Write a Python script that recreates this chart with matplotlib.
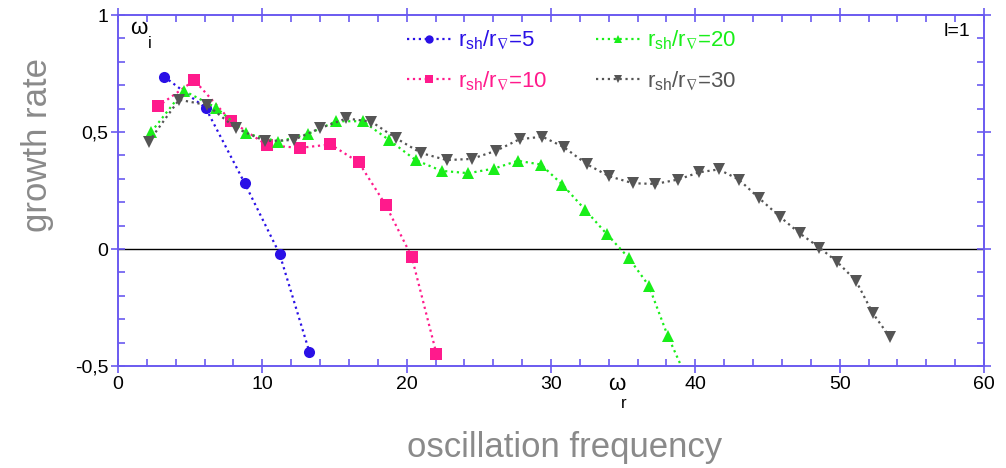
import numpy as np
import matplotlib
matplotlib.use("Agg")
import matplotlib.pyplot as plt
from matplotlib.ticker import MultipleLocator, FuncFormatter

# values
blue_x = [3.19, 6.07, 8.78, 11.19, 13.26]
blue_y = [0.737, 0.603, 0.281, -0.02, -0.44]

pink_x = [2.75, 5.29, 7.81, 10.31, 12.6, 14.72, 16.67, 18.54, 20.35, 22.06]
pink_y = [0.609, 0.721, 0.548, 0.444, 0.432, 0.447, 0.371, 0.189, -0.033, -0.447]

green_x = [2.3, 4.55, 6.8, 8.88, 11.12, 13.14, 15.12, 16.97, 18.8, 20.62, 22.42,
           24.28, 26.07, 27.7, 29.3, 30.79, 32.36, 33.86, 35.37, 36.77, 38.08, 39.6]
green_y = [0.50, 0.677, 0.604, 0.494, 0.459, 0.491, 0.546, 0.546, 0.465, 0.38, 0.334,
           0.324, 0.344, 0.377, 0.361, 0.275, 0.168, 0.064, -0.037, -0.156, -0.37, -0.58]

gray_x = [2.12, 4.23, 6.18, 8.18, 10.2, 12.17, 14.0, 15.82, 17.56, 19.25, 21.0, 22.78,
          24.5, 26.2, 27.82, 29.4, 30.88, 32.49, 34.03, 35.67, 37.23, 38.82, 40.27,
          41.62, 43.01, 44.44, 45.86, 47.23, 48.6, 49.84, 51.12, 52.3, 53.48]
gray_y = [0.458, 0.638, 0.615, 0.516, 0.461, 0.466, 0.516, 0.558, 0.544, 0.474, 0.41, 0.38,
          0.385, 0.42, 0.469, 0.48, 0.436, 0.362, 0.311, 0.281, 0.278, 0.297, 0.328,
          0.34, 0.297, 0.216, 0.138, 0.067, 0.006, -0.056, -0.135, -0.275, -0.377]

labels = ["5", "10", "20", "30"]
colors = ["#2a10e6", "#ff1a8c", "#19ee19", "#555555"]
spine_col = "#6a5af0"

plt.rcParams['font.family'] = ['Liberation Sans', 'DejaVu Sans']
plt.rcParams['mathtext.default'] = 'regular'

fig = plt.figure(figsize=(10.06, 4.68), dpi=100)
ax = fig.add_axes([118/1006, 1 - 366/468, (984 - 118)/1006, (366 - 15)/468])

ax.axhline(0, color="black", lw=1.0, zorder=1)

series = [(blue_x, blue_y, "o", 8), (pink_x, pink_y, "s", 8),
          (green_x, green_y, "^", 8), (gray_x, gray_y, "v", 8)]
handles = []
for (xs, ys, m, ms), lab, c in zip(series, labels, colors):
    h, = ax.plot(xs, ys, ls=":", lw=1.6, color=c, marker=m, markersize=ms,
                 markeredgewidth=0, label=r"$r_{sh}/r_{\nabla}$=" + lab, zorder=3)
    handles.append(h)

ax.set_xlim(0, 60)
ax.set_ylim(-0.5, 1)
ax.xaxis.set_major_locator(MultipleLocator(10))
ax.xaxis.set_minor_locator(MultipleLocator(2))
ax.yaxis.set_major_locator(MultipleLocator(0.5))
ax.yaxis.set_minor_locator(MultipleLocator(0.1))
ax.yaxis.set_major_formatter(FuncFormatter(lambda v, p: ("%g" % v).replace(".", ",")))

for s in ax.spines.values():
    s.set_color(spine_col)
    s.set_linewidth(1.4)
ax.tick_params(which="both", top=True, right=True, color=spine_col, width=1.2,
               labelsize=14, labelcolor="black")
ax.tick_params(which="major", direction="inout", length=10, pad=2)
ax.tick_params(which="minor", direction="in", length=5)

# legend, two columns (5,10 | 20,30), text in series colours
leg = ax.legend(handles=handles, ncol=2,
                loc="upper left", bbox_to_anchor=(0.318, 1.0), frameon=False,
                fontsize=16, handlelength=2.0, handletextpad=0.3, columnspacing=2.2,
                labelspacing=0.75, markerscale=0.75, borderaxespad=0.2)
for t, c in zip(leg.get_texts(), colors):
    t.set_color(c)

# corner annotations
fig.text(139/1006, 1 - 28/468, "ω", fontsize=16, ha="center", va="center")
fig.text(150/1006, 1 - 44/468, "i", fontsize=12, ha="center", va="center")
fig.text(617/1006, 1 - 384/468, "ω", fontsize=16, ha="center", va="center")
fig.text(624/1006, 1 - 404/468, "r", fontsize=12, ha="center", va="center")
fig.text(970/1006, 1 - 32/468, "l=1", fontsize=14, ha="right", va="center")

# axis titles
fig.text(565/1006, 1 - 447/468, "oscillation frequency", fontsize=25, color="#8a8a8a",
         ha="center", va="center")
fig.text(37/1006, 1 - 145/468, "growth rate", fontsize=25, color="#8a8a8a",
         ha="center", va="center", rotation=90)

fig.savefig("out.png", dpi=100)
